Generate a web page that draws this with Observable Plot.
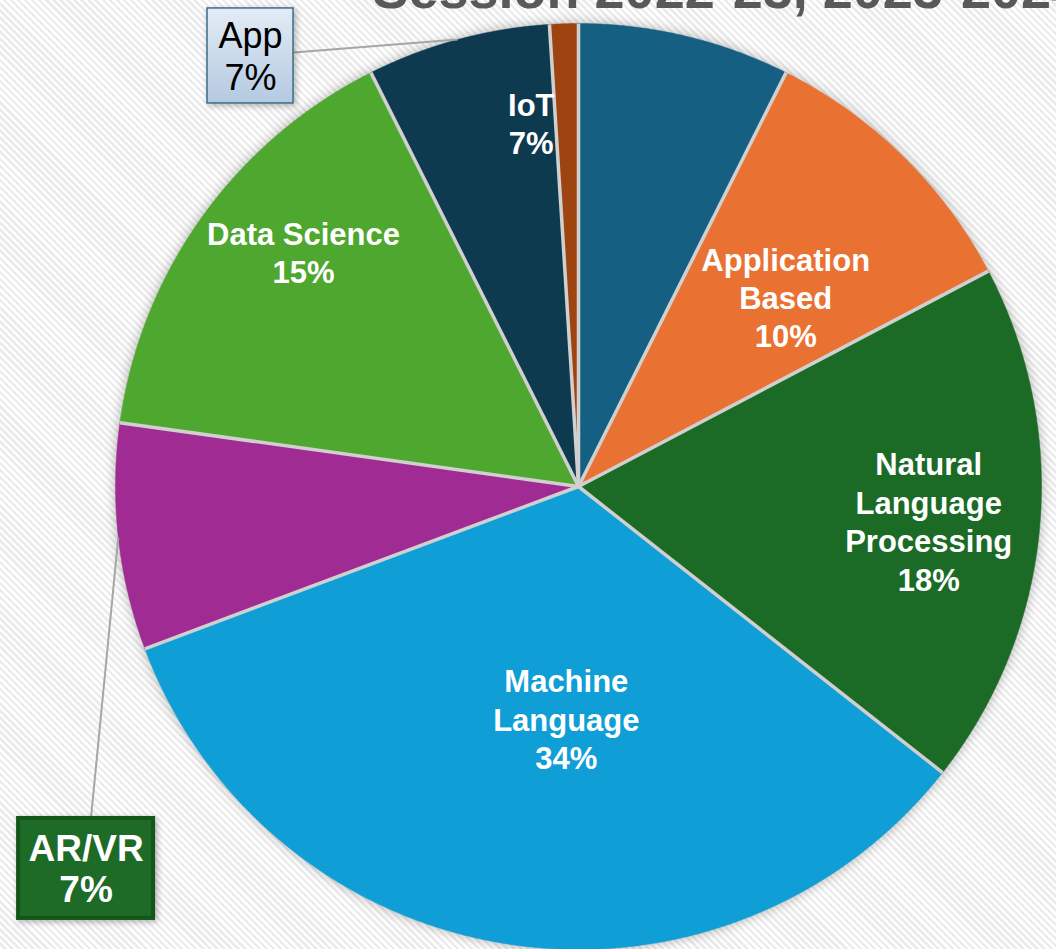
<!DOCTYPE html>
<html>
<head>
<meta charset="utf-8">
<script src="https://cdn.jsdelivr.net/npm/d3@7"></script>
<script src="https://cdn.jsdelivr.net/npm/@observablehq/plot@0.6"></script>
<style>
  html, body { margin: 0; padding: 0; width: 1056px; height: 949px; overflow: hidden; }
  body { background: repeating-linear-gradient(45deg, #ffffff 0px, #ffffff 2.5px, #ececec 2.5px, #ececec 5px); }
  #chart svg { display: block; overflow: visible; }
  #chart g[aria-label="line"] { filter: drop-shadow(0 0 6px rgba(0,0,0,0.30)); }
  #chart g[aria-label="rect"] { filter: drop-shadow(2px 2px 3px rgba(0,0,0,0.30)); }
</style>
</head>
<body>
<div id="chart"></div>
<script>
// ---------- data ----------
const title = "Session 2022-23, 2023-2024";
const categories = ["App", "Application Based", "Natural Language Processing", "Machine Language", "AR/VR", "Data Science", "IoT", "Other"];
const values = [7.4, 9.9, 18.3, 33.7, 7.9, 15.4, 6.4, 1.0];
const labelNames = ["App", "Application\nBased", "Natural\nLanguage\nProcessing", "Machine\nLanguage", "AR/VR", "Data Science", "IoT", ""];
const pctLabels = ["7%", "10%", "18%", "34%", "7%", "15%", "7%", ""];
const colors = ["#156082", "#E97132", "#1B6B26", "#0F9ED5", "#A02B93", "#4EA72E", "#0E3A50", "#9E4410"];

// ---------- layout ----------
const W = 1056, H = 949;
const M = {left: 115, right: 15, top: 23, bottom: 0};
const R = (W - M.left - M.right) / 2; // pie radius in px
const FONT = "'Liberation Sans', Arial, sans-serif";
// inside labels: polar placement (degrees clockwise from 12 o'clock, fraction of radius)
const insideLabels = [
  {i: 1, angle: 47.5, r: 0.607},
  {i: 2, angle: 95.6, r: 0.760},
  {i: 3, angle: 183.0, r: 0.502},
  {i: 5, angle: 310.5, r: 0.781},
  {i: 6, angle: 352.6, r: 0.792}
];
// callout boxes: polar placement of box centre, leader target slice, box size in px
const callouts = [
  {i: 0, leaderTo: 6, angle: 322.7, r: 1.169, w: 86, h: 95, kind: "light"},
  {i: 4, leaderTo: 4, angle: 232.2, r: 1.346, w: 135, h: 100, kind: "dark"}
];

// ---------- geometry derived from data ----------
const deg = d => d * Math.PI / 180;
const arcs = d3.pie().sort(null).value(d => d)(values);
const slicePts = [];
arcs.forEach((a, i) => {
  const name = categories[i];
  slicePts.push({name, x: 0, y: 0});
  const n = Math.max(2, Math.ceil((a.endAngle - a.startAngle) / deg(0.25)));
  for (let k = 0; k <= n; k++) {
    const t = a.startAngle + (a.endAngle - a.startAngle) * k / n;
    slicePts.push({name, x: Math.sin(t), y: Math.cos(t)});
  }
  slicePts.push({name, x: 0, y: 0});
});
const seps = arcs.map(a => ({t: a.startAngle}));
const mid = i => (arcs[i].startAngle + arcs[i].endAngle) / 2;

const insideData = insideLabels.map(d => ({
  x: d.r * Math.sin(deg(d.angle)),
  y: d.r * Math.cos(deg(d.angle)),
  text: labelNames[d.i] + "\n" + pctLabels[d.i]
}));

const calloutData = callouts.map(d => {
  const cx = d.r * Math.sin(deg(d.angle)), cy = d.r * Math.cos(deg(d.angle));
  const tx = Math.sin(mid(d.leaderTo)), ty = Math.cos(mid(d.leaderTo));
  const dx = (tx - cx) * R, dy = (ty - cy) * R;
  const s = Math.min((d.w / 2) / Math.abs(dx || 1e-9), (d.h / 2) / Math.abs(dy || 1e-9));
  return {
    ...d, cx, cy, tx, ty,
    ex: cx + dx * s / R, ey: cy + dy * s / R,
    x1: cx - d.w / 2 / R, x2: cx + d.w / 2 / R,
    y1: cy - d.h / 2 / R, y2: cy + d.h / 2 / R,
    text: labelNames[d.i] + "\n" + pctLabels[d.i]
  };
});
const lightBoxes = calloutData.filter(d => d.kind === "light");
const darkBoxes = calloutData.filter(d => d.kind === "dark");

const defs = () => {
  const ns = "http://www.w3.org/2000/svg";
  const g = document.createElementNS(ns, "defs");
  g.innerHTML = `<linearGradient id="appGrad" x1="0" y1="0" x2="0" y2="1">
      <stop offset="0%" stop-color="#e3ecf6"/>
      <stop offset="100%" stop-color="#b4c9e1"/>
    </linearGradient>`;
  return g;
};

const chart = Plot.plot({
  width: W, height: H,
  marginLeft: M.left, marginRight: M.right, marginTop: M.top, marginBottom: M.bottom,
  x: {domain: [-1, 1], axis: null},
  y: {domain: [-1, 1], axis: null},
  color: {domain: categories, range: colors},
  style: {background: "transparent", overflow: "visible", fontFamily: FONT},
  marks: [
    defs,
    Plot.text([title], {
      text: d => d, frameAnchor: "top-left", dx: 372 - M.left, dy: 7 - M.top,
      textAnchor: "start", lineAnchor: "bottom",
      fontSize: 54, fontWeight: "bold", fill: "#595959", fontFamily: FONT
    }),
    Plot.line(slicePts, {x: "x", y: "y", z: "name", fill: "name", stroke: "name", strokeWidth: 0.5, curve: "linear"}),
    Plot.link(seps, {x1: 0, y1: 0, x2: d => Math.sin(d.t), y2: d => Math.cos(d.t), stroke: "#d0d0d0", strokeWidth: 3.5}),
    Plot.link(calloutData, {x1: "ex", y1: "ey", x2: "tx", y2: "ty", stroke: "#a6a6a6", strokeWidth: 2}),
    Plot.rect(lightBoxes, {x1: "x1", x2: "x2", y1: "y1", y2: "y2", fill: "url(#appGrad)", stroke: "#3b6e8c", strokeWidth: 1.5}),
    Plot.rect(darkBoxes, {x1: "x1", x2: "x2", y1: "y1", y2: "y2", fill: "#1E6B28", stroke: "#12561A", strokeWidth: 4}),
    Plot.text(insideData, {
      x: "x", y: "y", text: "text", fill: "white", fontSize: 31, fontWeight: "bold",
      lineHeight: 1.24, fontFamily: FONT
    }),
    Plot.text(lightBoxes, {
      x: "cx", y: "cy", text: "text", fill: "black", fontSize: 36, fontWeight: "normal",
      lineHeight: 1.17, fontFamily: FONT
    }),
    Plot.text(darkBoxes, {
      x: "cx", y: "cy", text: "text", fill: "white", fontSize: 37, fontWeight: "bold",
      lineHeight: 1.1, fontFamily: FONT
    })
  ]
});
document.getElementById("chart").appendChild(chart);
</script>
</body>
</html>
